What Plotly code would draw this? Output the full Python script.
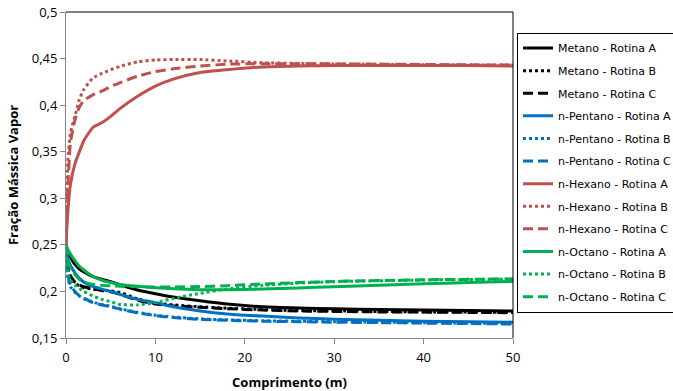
import plotly.graph_objects as go

# Comprimento (m)
x = [0, 0.2, 0.5, 1, 1.5, 2, 3, 4, 5, 6, 8, 10, 12, 15, 18, 22, 26, 30, 35, 40, 45, 50]

metano_A = [0.25, 0.243, 0.237, 0.229, 0.224, 0.221, 0.216, 0.213, 0.2105, 0.207, 0.2015, 0.1975, 0.194, 0.19, 0.1865, 0.1835, 0.1822, 0.1813, 0.1805, 0.18, 0.1795, 0.179]
metano_B = [0.25, 0.225, 0.215, 0.209, 0.206, 0.204, 0.2025, 0.2015, 0.2005, 0.199, 0.192, 0.1875, 0.1855, 0.1835, 0.182, 0.1805, 0.1795, 0.179, 0.1785, 0.178, 0.1778, 0.1775]
metano_C = [0.25, 0.228, 0.217, 0.21, 0.207, 0.205, 0.203, 0.201, 0.1995, 0.197, 0.1905, 0.1865, 0.1845, 0.183, 0.1815, 0.18, 0.179, 0.1785, 0.178, 0.1778, 0.1775, 0.1772]

pentano_A = [0.25, 0.236, 0.228, 0.22, 0.214, 0.21, 0.2055, 0.2025, 0.2, 0.197, 0.1915, 0.188, 0.1835, 0.179, 0.1758, 0.1735, 0.1715, 0.1702, 0.169, 0.168, 0.1675, 0.167]
pentano_B = [0.25, 0.215, 0.205, 0.199, 0.195, 0.192, 0.1885, 0.186, 0.184, 0.1815, 0.1775, 0.1745, 0.1725, 0.1705, 0.1695, 0.1685, 0.168, 0.1675, 0.167, 0.1665, 0.166, 0.1655]
pentano_C = [0.25, 0.218, 0.207, 0.2, 0.1955, 0.193, 0.188, 0.1855, 0.1835, 0.181, 0.177, 0.174, 0.172, 0.17, 0.169, 0.168, 0.1675, 0.167, 0.1665, 0.166, 0.1655, 0.165]

hexano_A = [0.25, 0.285, 0.315, 0.337, 0.35, 0.362, 0.376, 0.381, 0.388, 0.396, 0.4095, 0.4205, 0.428, 0.435, 0.438, 0.441, 0.442, 0.4425, 0.4425, 0.4425, 0.4425, 0.442]
hexano_B = [0.25, 0.34, 0.37, 0.388, 0.406, 0.417, 0.429, 0.434, 0.438, 0.4415, 0.4465, 0.4485, 0.449, 0.449, 0.4475, 0.4455, 0.4448, 0.4442, 0.4438, 0.4435, 0.4432, 0.443]
hexano_C = [0.25, 0.31, 0.36, 0.384, 0.398, 0.405, 0.411, 0.415, 0.42, 0.424, 0.431, 0.436, 0.439, 0.442, 0.444, 0.4445, 0.4445, 0.4443, 0.444, 0.4437, 0.4433, 0.443]

octano_A = [0.25, 0.245, 0.24, 0.233, 0.227, 0.223, 0.216, 0.212, 0.2095, 0.2075, 0.2055, 0.204, 0.2028, 0.2018, 0.2018, 0.2025, 0.2038, 0.205, 0.2067, 0.2082, 0.2095, 0.2107]
octano_B = [0.25, 0.22, 0.212, 0.207, 0.203, 0.2, 0.195, 0.1915, 0.189, 0.186, 0.1855, 0.188, 0.1925, 0.198, 0.2025, 0.2065, 0.209, 0.2105, 0.2115, 0.2122, 0.2128, 0.2132]
octano_C = [0.25, 0.235, 0.225, 0.218, 0.213, 0.21, 0.2075, 0.2065, 0.206, 0.2055, 0.205, 0.2048, 0.2048, 0.2052, 0.2062, 0.208, 0.2095, 0.2107, 0.2117, 0.2125, 0.213, 0.2135]

series_names = [
    "Metano - Rotina A", "Metano - Rotina B", "Metano - Rotina C",
    "n-Pentano - Rotina A", "n-Pentano - Rotina B", "n-Pentano - Rotina C",
    "n-Hexano - Rotina A", "n-Hexano - Rotina B", "n-Hexano - Rotina C",
    "n-Octano - Rotina A", "n-Octano - Rotina B", "n-Octano - Rotina C",
]
series_values = [metano_A, metano_B, metano_C,
                 pentano_A, pentano_B, pentano_C,
                 hexano_A, hexano_B, hexano_C,
                 octano_A, octano_B, octano_C]

y_tick_vals = [0.15, 0.2, 0.25, 0.3, 0.35, 0.4, 0.45, 0.5]
y_tick_labels = ["0,15", "0,2", "0,25", "0,3", "0,35", "0,4", "0,45", "0,5"]
x_tick_vals = [0, 10, 20, 30, 40, 50]
x_tick_labels = ["0", "10", "20", "30", "40", "50"]

colors = ["#000000"] * 3 + ["#0070C0"] * 3 + ["#C0504D"] * 3 + ["#00B050"] * 3
dashes = ["solid", "dot", "10px,5px"] * 4

fig = go.Figure()
for i, (name, vals) in enumerate(zip(series_names, series_values)):
    fig.add_trace(go.Scatter(
        x=x, y=vals, name=name, mode="lines",
        line=dict(color=colors[i], width=3, dash=dashes[i], shape="spline", smoothing=0.5),
        legendgroup="g%02d" % i,
    ))

FONT = "Open Sans"
LFONT = "DejaVu Sans"
fig.update_layout(
    width=673, height=391,
    margin=dict(l=66, r=160, t=12, b=53, autoexpand=False),
    plot_bgcolor="white", paper_bgcolor="white",
    font=dict(family=FONT, color="#000000"),
    legend=dict(
        x=1.009, xanchor="left", y=0.937, yanchor="top",
        bordercolor="#000000", borderwidth=1,
        font=dict(family=LFONT, size=11, color="#000000"),
        tracegroupgap=3.6, traceorder="grouped",
    ),
    xaxis=dict(
        range=[0, 50], tickvals=x_tick_vals, ticktext=x_tick_labels,
        showgrid=False, zeroline=False, showline=True, linecolor="#868686", linewidth=1,
        ticks="outside", ticklen=5, tickcolor="#868686", ticklabelstandoff=2,
        tickfont=dict(family=FONT, size=13, color="#000000"),
        title=dict(text="<b>Comprimento (m)</b>", font=dict(family=FONT, size=13), standoff=13),
    ),
    yaxis=dict(
        range=[0.15, 0.5], tickvals=y_tick_vals, ticktext=y_tick_labels,
        showgrid=False, zeroline=False, showline=True, linecolor="#868686", linewidth=1,
        ticks="outside", ticklen=5, tickcolor="#868686", ticklabeloverflow="allow",
        tickfont=dict(family=FONT, size=13, color="#000000"),
        title=dict(text="<b>Fração Mássica Vapor</b>", font=dict(family=FONT, size=13), standoff=10),
    ),
    shapes=[
        dict(type="line", xref="paper", yref="paper", x0=0, x1=1, y0=1, y1=1,
             line=dict(color="#000000", width=1)),
        dict(type="line", xref="paper", yref="paper", x0=1, x1=1, y0=0, y1=1,
             line=dict(color="#000000", width=1)),
    ],
)

fig.write_html("out.html", config={"displayModeBar": False},
               post_script="document.body.style.margin='0';")
